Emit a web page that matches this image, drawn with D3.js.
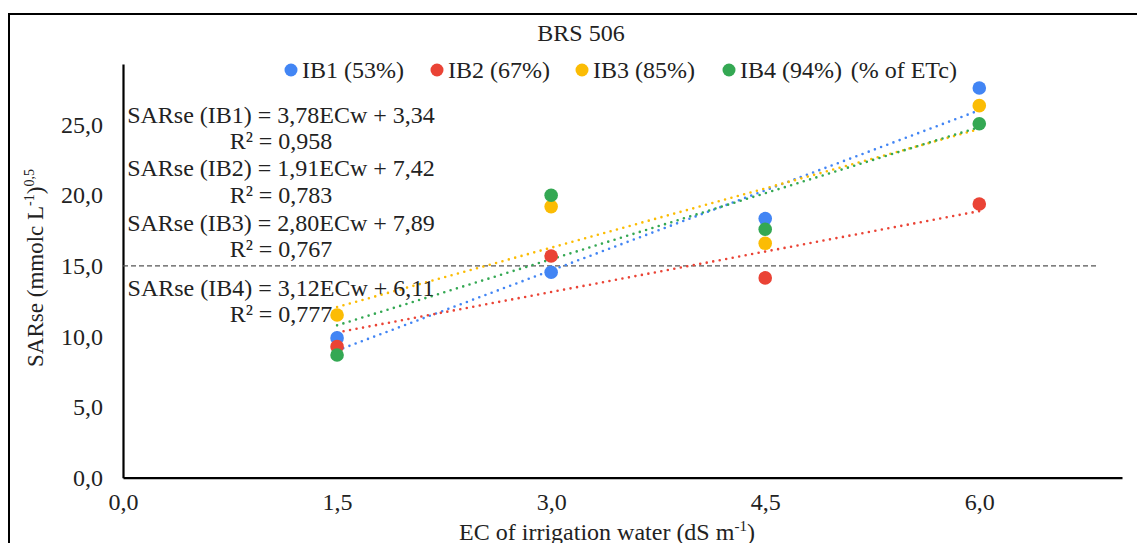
<!DOCTYPE html>
<html>
<head>
<meta charset="utf-8">
<script src="https://cdn.jsdelivr.net/npm/d3@7"></script>
<style>
  body { margin: 0; background: #fff; }
  text { font-family: "Liberation Serif", "Times New Roman", serif; fill: #222; }
</style>
</head>
<body>
<svg id="chart" width="1137" height="543"></svg>
<script>
// data
var ecw = [1.5, 3.0, 4.5, 6.0];
var ib1 = [9.9, 14.55, 18.35, 27.6];
var ib2 = [9.28, 15.7, 14.15, 19.38];
var ib3 = [11.52, 19.2, 16.6, 26.35];
var ib4 = [8.69, 20.0, 17.6, 25.07];
var seriesNames = ["IB1 (53%)", "IB2 (67%)", "IB3 (85%)", "IB4 (94%)"];
var colors = ["#4285f4", "#ea4335", "#fbbc04", "#34a853"];
// trendline coefficients (slope, intercept) and R²
var slopes = [3.78, 1.91, 2.80, 3.12];
var intercepts = [3.34, 7.42, 7.89, 6.11];
var r2 = ["0,958", "0,783", "0,767", "0,777"];
var xTicks = [0, 1.5, 3.0, 4.5, 6.0];
var yTicks = [0, 5, 10, 15, 20, 25];
var threshold = 15;

var series = [ib1, ib2, ib3, ib4];
var fmt = function(v) { return d3.format(".1f")(v).replace(".", ","); };
var fmt2 = function(v) { return d3.format(".2f")(v).replace(".", ","); };
var fs = 24;

var svg = d3.select("#chart");

// outer frame
svg.append("rect")
    .attr("x", 9).attr("y", 14)
    .attr("width", 1300).attr("height", 700)
    .attr("fill", "none").attr("stroke", "#000").attr("stroke-width", 2);

var x = d3.scaleLinear().domain([0, 7]).range([123, 1122]);
var y = d3.scaleLinear().domain([0, 29.3]).range([477.7, 64]);

// axes, no tick marks
var xAxis = svg.append("g").attr("transform", "translate(0," + y(0) + ")")
    .call(d3.axisBottom(x).tickValues(xTicks).tickSize(0).tickPadding(15).tickFormat(fmt));
var yAxis = svg.append("g").attr("transform", "translate(" + x(0) + ",0)")
    .call(d3.axisLeft(y).tickValues(yTicks).tickSize(0).tickPadding(20).tickFormat(fmt));
[xAxis, yAxis].forEach(function(a) {
    a.select(".domain").attr("stroke", "#000").attr("stroke-width", 2.2);
    a.selectAll("text").attr("font-size", fs).attr("fill", "#222")
        .style("font-family", "Liberation Serif");
});

// reference line at 15
svg.append("line")
    .attr("x1", x(0)).attr("x2", 1099)
    .attr("y1", y(threshold)).attr("y2", y(threshold))
    .attr("stroke", "#555").attr("stroke-width", 1.3)
    .attr("stroke-dasharray", "5,3");

// trendlines
series.forEach(function(s, i) {
    var x0 = d3.min(ecw), x1 = d3.max(ecw);
    svg.append("line")
        .attr("x1", x(x0)).attr("y1", y(slopes[i] * x0 + intercepts[i]))
        .attr("x2", x(x1)).attr("y2", y(slopes[i] * x1 + intercepts[i]))
        .attr("stroke", colors[i]).attr("stroke-width", 2.6)
        .attr("stroke-linecap", "round")
        .attr("stroke-dasharray", "0,6.6");
});

// points
series.forEach(function(s, i) {
    svg.append("g").selectAll("circle")
        .data(s)
        .enter().append("circle")
        .attr("cx", function(d, j) { return x(ecw[j]); })
        .attr("cy", function(d) { return y(d); })
        .attr("r", 6.8)
        .attr("fill", colors[i]);
});

// title
svg.append("text").attr("x", 581).attr("y", 41)
    .attr("text-anchor", "middle").attr("font-size", fs).text("BRS 506");

// legend
var legendX = [291, 437, 582, 729];
var legend = svg.append("g");
seriesNames.forEach(function(n, i) {
    legend.append("circle").attr("cx", legendX[i]).attr("cy", 70).attr("r", 6.5).attr("fill", colors[i]);
    legend.append("text").attr("x", legendX[i] + 11).attr("y", 78)
        .attr("font-size", fs).text(n);
});
legend.append("text").attr("x", 957).attr("y", 78).attr("text-anchor", "end")
    .attr("font-size", fs).text("(% of ETc)");

// equations
var eqY = [115, 168.3, 222.7, 288];
series.forEach(function(s, i) {
    var lbl = "IB" + (i + 1);
    svg.append("text").attr("x", 281).attr("y", eqY[i] + 7.8)
        .attr("text-anchor", "middle").attr("font-size", fs)
        .text("SARse (" + lbl + ") = " + fmt2(slopes[i]) + "ECw + " + fmt2(intercepts[i]));
    svg.append("text").attr("x", 281).attr("y", eqY[i] + 26.6 + 7.8)
        .attr("text-anchor", "middle").attr("font-size", fs)
        .text("R² = " + r2[i]);
});

// axis titles
var xt = svg.append("text").attr("x", 607).attr("y", 540)
    .attr("text-anchor", "middle").attr("font-size", fs);
xt.append("tspan").text("EC of irrigation water (dS m");
xt.append("tspan").attr("font-size", 15).attr("dy", -9).text("-1");
xt.append("tspan").attr("dy", 9).text(")");

var yt = svg.append("text")
    .attr("transform", "translate(43,268) rotate(-90)")
    .attr("text-anchor", "middle").attr("font-size", 23);
yt.append("tspan").text("SARse (mmolc L");
yt.append("tspan").attr("font-size", 14).attr("dy", -9).text("-1");
yt.append("tspan").attr("dy", 9).text(")");
yt.append("tspan").attr("font-size", 14).attr("dy", -9).text("0,5");
</script>
</body>
</html>
